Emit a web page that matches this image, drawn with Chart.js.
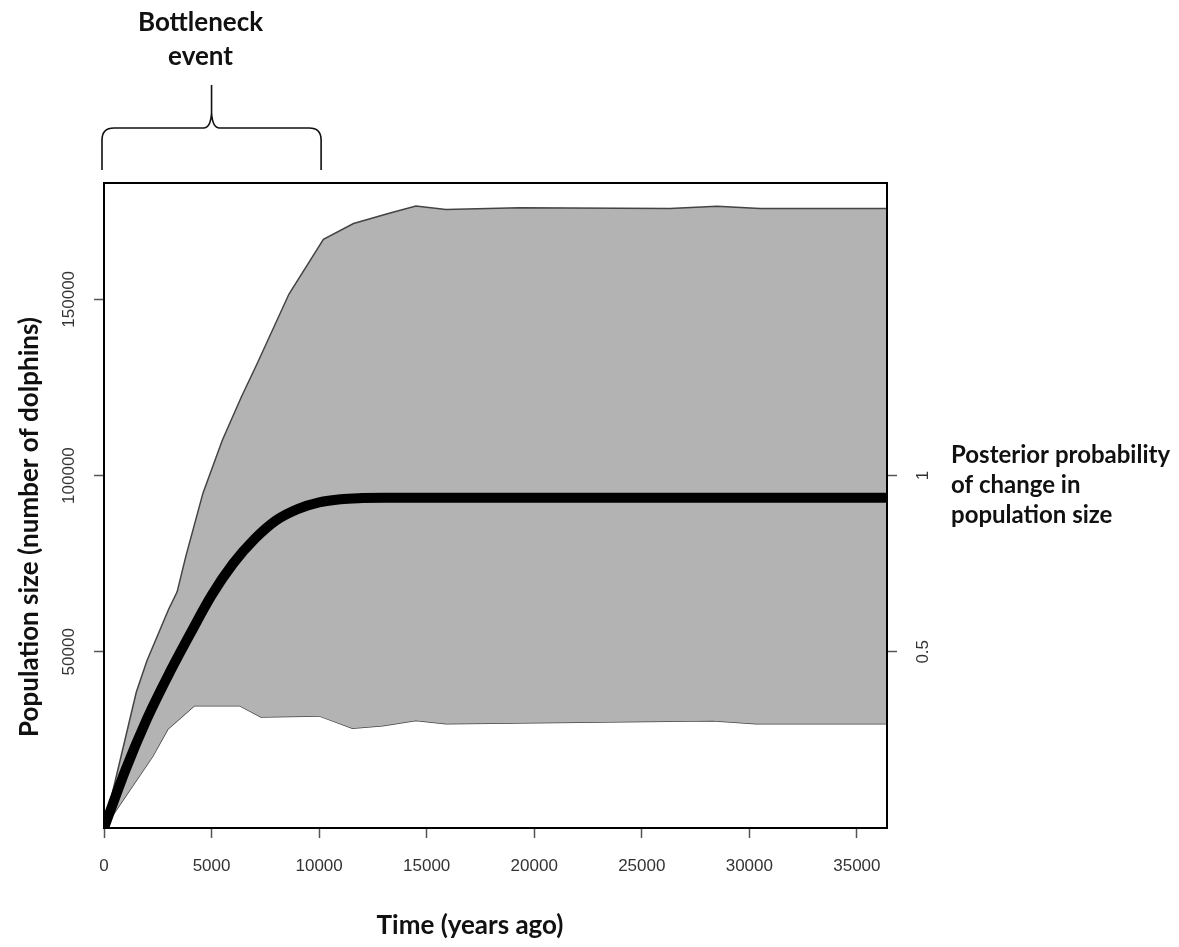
<!DOCTYPE html>
<html>
<head>
<meta charset="utf-8">
<title>Bottleneck event</title>
<script src="https://cdn.jsdelivr.net/npm/chart.js@4.4.1/dist/chart.umd.min.js"></script>
<style>
  body { margin: 0; background: #fff; }
  #popChart { display: block; }
</style>
</head>
<body>
<canvas id="popChart" width="1179" height="947"></canvas>
<script>
// Tick labels
const timeTicks = [0, 5000, 10000, 15000, 20000, 25000, 30000, 35000];
const sizeTicks = [50000, 100000, 150000];
const probTicks = [0.5, 1];

// Upper edge of the grey band
const upperYears = [0, 1500, 2000, 3000, 3400, 3800, 4600, 5500, 6400, 7100, 8600, 10200, 11600, 13300, 14500, 15900, 19300, 26300, 28500, 30500, 36400];
const upperSize = [0, 38500, 47500, 62000, 67000, 77000, 95000, 110000, 122500, 131500, 151500, 167000, 171500, 174500, 176500, 175500, 176000, 175800, 176400, 175800, 175800];

// Lower edge of the grey band
const lowerYears = [0, 2260, 2960, 4200, 6300, 7300, 10000, 11550, 12950, 14500, 15900, 28300, 30300, 36400];
const lowerSize = [0, 20300, 28000, 34700, 34700, 31500, 31800, 28300, 29000, 30500, 29600, 30400, 29600, 29600];

// Median line
const meanYears = [0, 1000, 2000, 3000, 4000, 5000, 6000, 7000, 8000, 9000, 10000, 11000, 12000, 13000, 36400];
const meanSize = [0, 16500, 31000, 43500, 55000, 66000, 75000, 82000, 87300, 90500, 92400, 93300, 93600, 93700, 93700];

const bottleneckYears = [0, 10000];

const TEXT_FONT = "Lato, 'Open Sans', sans-serif";
const TICK_FONT = { family: "'Liberation Sans', Arial, sans-serif", size: 17 };

function toPoints(xs, ys) {
  return xs.map((x, i) => ({ x: x, y: ys[i] }));
}

const annotations = {
  id: 'annotations',
  afterDraw(chart) {
    const { ctx, chartArea: a, scales } = chart;
    ctx.save();

    // plot box
    ctx.strokeStyle = '#000';
    ctx.lineWidth = 2;
    ctx.strokeRect(a.left, a.top, a.right - a.left, a.bottom - a.top);

    // curly brace over the bottleneck period
    const x0 = scales.x.getPixelForValue(bottleneckYears[0]) - 2;
    const x1 = scales.x.getPixelForValue(bottleneckYears[1]) + 2;
    const xm = (x0 + x1) / 2;
    const yEnd = 170, yBar = 128, yTip = 85, r = 12;
    ctx.lineWidth = 1.6;
    ctx.strokeStyle = '#111';
    ctx.beginPath();
    ctx.moveTo(x0, yEnd);
    ctx.lineTo(x0, yBar + r);
    ctx.quadraticCurveTo(x0, yBar, x0 + r, yBar);
    ctx.lineTo(xm - 8, yBar);
    ctx.quadraticCurveTo(xm - 1, yBar, xm, yBar - 15);
    ctx.lineTo(xm, yTip);
    ctx.moveTo(xm, yBar - 15);
    ctx.quadraticCurveTo(xm + 1, yBar, xm + 8, yBar);
    ctx.lineTo(x1 - r, yBar);
    ctx.quadraticCurveTo(x1, yBar, x1, yBar + r);
    ctx.lineTo(x1, yEnd);
    ctx.stroke();

    ctx.fillStyle = '#111';
    ctx.font = 'bold 26px ' + TEXT_FONT;
    ctx.textAlign = 'center';
    ctx.textBaseline = 'alphabetic';
    ctx.fillText('Bottleneck', xm - 11, 31);
    ctx.fillText('event', xm - 11, 65);

    // right-hand note
    ctx.font = 'bold 24px ' + TEXT_FONT;
    ctx.textAlign = 'left';
    ctx.fillText('Posterior probability', 951, 463);
    ctx.fillText('of change in', 951, 493);
    ctx.fillText('population size', 951, 523);

    // axis titles
    ctx.font = 'bold 26px ' + TEXT_FONT;
    ctx.textAlign = 'center';
    ctx.textBaseline = 'middle';
    ctx.fillText('Time (years ago)', 470, 926);

    ctx.translate(30, 527);
    ctx.rotate(-Math.PI / 2);
    ctx.fillText('Population size (number of dolphins)', 0, 0);

    ctx.restore();
  }
};

document.addEventListener('DOMContentLoaded', function () {
  const ctx = document.getElementById('popChart');

  new Chart(ctx, {
    type: 'line',
    data: {
      datasets: [
        {
          label: 'Median',
          data: toPoints(meanYears, meanSize),
          borderColor: '#000',
          borderWidth: 10,
          cubicInterpolationMode: 'monotone',
          fill: false,
          order: 0
        },
        {
          label: 'Upper',
          data: toPoints(upperYears, upperSize),
          borderColor: '#444',
          borderWidth: 1.5,
          backgroundColor: '#b3b3b3',
          fill: '+1',
          tension: 0,
          order: 1
        },
        {
          label: 'Lower',
          data: toPoints(lowerYears, lowerSize),
          borderColor: '#444',
          borderWidth: 1.5,
          fill: false,
          tension: 0,
          order: 2
        }
      ]
    },
    options: {
      responsive: false,
      animation: false,
      layout: { padding: { top: 183 } },
      elements: { point: { radius: 0 } },
      plugins: {
        legend: { display: false },
        tooltip: { enabled: false }
      },
      scales: {
        x: {
          type: 'linear',
          position: 'bottom',
          min: 0,
          max: 36400,
          afterBuildTicks: s => { s.ticks = timeTicks.map(v => ({ value: v })); },
          afterFit: s => { s.height = 119; },
          grid: { drawOnChartArea: false, tickLength: 10, tickColor: '#555', tickWidth: 1.5 },
          border: { display: false },
          ticks: {
            autoSkip: false,
            maxRotation: 0,
            padding: 18,
            color: '#333',
            font: TICK_FONT,
            callback: v => String(v)
          }
        },
        y: {
          type: 'linear',
          position: 'left',
          min: 0,
          max: 183000,
          afterBuildTicks: s => { s.ticks = sizeTicks.map(v => ({ value: v })); },
          afterFit: s => { s.width = 104; },
          grid: { drawOnChartArea: false, tickLength: 10, tickColor: '#555', tickWidth: 1.5 },
          border: { display: false },
          ticks: {
            autoSkip: false,
            minRotation: 90,
            maxRotation: 90,
            crossAlign: 'center',
            padding: -4,
            color: '#333',
            font: TICK_FONT,
            callback: v => String(v)
          }
        },
        y2: {
          type: 'linear',
          position: 'right',
          min: 0,
          max: 1.83,
          afterBuildTicks: s => { s.ticks = probTicks.map(v => ({ value: v })); },
          afterFit: s => { s.width = 292; },
          grid: { drawOnChartArea: false, tickLength: 10, tickColor: '#555', tickWidth: 1.5 },
          border: { display: false },
          ticks: {
            autoSkip: false,
            minRotation: 90,
            maxRotation: 90,
            crossAlign: 'center',
            padding: 14,
            color: '#333',
            font: TICK_FONT,
            callback: v => String(v)
          }
        }
      }
    },
    plugins: [annotations]
  });
});
</script>
</body>
</html>
